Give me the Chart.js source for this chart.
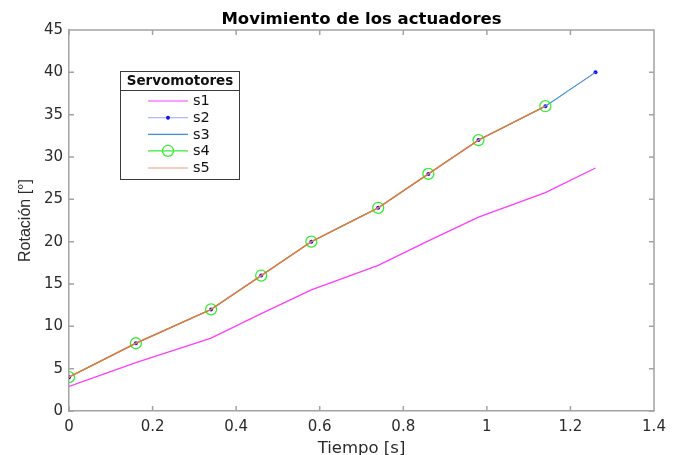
<!DOCTYPE html>
<html><head><meta charset="utf-8">
<script src="https://cdn.jsdelivr.net/npm/chart.js@4/dist/chart.umd.min.js"></script>
<style>html,body{margin:0;padding:0;background:#fff;overflow:hidden}</style>
</head><body>
<canvas id="c" width="676" height="455"></canvas>
<script>
// ---- data ----
const chartTitle = 'Movimiento de los actuadores';
const xAxisTitle = 'Tiempo [s]';
const yAxisTitle = 'Rotación [°]';
const legendTitle = 'Servomotores';
const seriesNames = ['s1', 's2', 's3', 's4', 's5'];
const tiempo = [0, 0.16, 0.34, 0.46, 0.58, 0.74, 0.86, 0.98, 1.14, 1.26];
const s1 = [2.9, 5.7, 8.6, 11.5, 14.3, 17.2, 20.1, 22.9, 25.8, 28.7];
const s2 = [4, 8, 12, 16, 20, 24, 28, 32, 36, 40];
const s3 = [4, 8, 12, 16, 20, 24, 28, 32, 36, 40];
const s4 = [4, 8, 12, 16, 20, 24, 28, 32, 36];
const s5 = [4, 8, 12, 16, 20, 24, 28, 32, 36];
const xTicks = [0, 0.2, 0.4, 0.6, 0.8, 1, 1.2, 1.4];
const xTickLabels = ['0', '0.2', '0.4', '0.6', '0.8', '1', '1.2', '1.4'];
const yTicks = [0, 5, 10, 15, 20, 25, 30, 35, 40, 45];
const yTickLabels = ['0', '5', '10', '15', '20', '25', '30', '35', '40', '45'];

// ---- styles ----
const AXIS = '#a3a3a3';
const TXT = '#2b2b2b';
const FONT_H = "'DejaVu Sans', sans-serif";
const FONT_V = "'Liberation Sans', Arial, sans-serif";
const styles = [
  {color: '#ff3cff', legend: '#ff7cff', width: 1.3, radius: 0, pcolor: null},
  {color: '#9a9aff', legend: '#b4b4ff', width: 1, radius: 2, pcolor: '#1010f0'},
  {color: '#4a98d6', legend: '#3f8fd2', width: 1.1, radius: 0, pcolor: null},
  {color: '#33ee33', legend: '#33ee33', width: 1, radius: 5.5, pcolor: '#33ee33', hollow: true},
  {color: '#e8773f', legend: '#f4bea4', width: 1.5, radius: 0, pcolor: null}
];
const seriesData = [s1, s2, s3, s4, s5];

const toXY = arr => arr.map((v, i) => ({x: tiempo[i], y: v}));

const datasets = seriesData.map((arr, i) => {
  const st = styles[i];
  return {
    label: seriesNames[i],
    data: toXY(arr),
    borderColor: st.color,
    borderWidth: st.width,
    backgroundColor: st.hollow ? 'rgba(0,0,0,0)' : (st.pcolor || st.color),
    pointRadius: st.radius,
    pointBorderColor: st.pcolor || st.color,
    pointBackgroundColor: st.hollow ? 'rgba(0,0,0,0)' : (st.pcolor || st.color),
    pointBorderWidth: st.hollow ? 1.3 : 0,
    pointHoverRadius: st.radius,
    tension: 0,
    fill: false,
    order: 5 - i
  };
});

const boxPlugin = {
  id: 'matlabBox',
  beforeDatasetsDraw(chart) {
    const {ctx, chartArea: a, scales: {x, y}} = chart;
    ctx.save();
    ctx.strokeStyle = AXIS;
    ctx.lineWidth = 1.5;
    ctx.beginPath();
    ctx.moveTo(a.left, a.top); ctx.lineTo(a.right, a.top); ctx.lineTo(a.right, a.bottom);
    const L = 5;
    xTicks.forEach(v => {
      const px = x.getPixelForValue(v);
      ctx.moveTo(px, a.bottom); ctx.lineTo(px, a.bottom - L);
      ctx.moveTo(px, a.top); ctx.lineTo(px, a.top + L);
    });
    yTicks.forEach(v => {
      const py = y.getPixelForValue(v);
      ctx.moveTo(a.left, py); ctx.lineTo(a.left + L, py);
      ctx.moveTo(a.right, py); ctx.lineTo(a.right - L, py);
    });
    ctx.stroke();
    ctx.restore();
  }
};

const legendPlugin = {
  id: 'matlabLegend',
  afterDatasetsDraw(chart) {
    const {ctx} = chart;
    const bx = 120, by = 71, bw = 119, bh = 108;
    ctx.save();
    ctx.fillStyle = '#fff';
    ctx.fillRect(bx, by, bw, bh);
    ctx.strokeStyle = '#3a3a3a';
    ctx.lineWidth = 1;
    ctx.strokeRect(bx + 0.5, by + 0.5, bw, bh);
    ctx.beginPath();
    ctx.moveTo(bx, 90.5); ctx.lineTo(bx + bw, 90.5);
    ctx.stroke();
    ctx.fillStyle = '#111';
    ctx.font = "bold 13.5px " + FONT_H;
    ctx.textAlign = 'center';
    ctx.textBaseline = 'middle';
    ctx.fillText(legendTitle, bx + bw / 2 + 0.5, 81);
    const rows = [101, 117.7, 134.3, 150.8, 168];
    ctx.font = "14.5px " + FONT_H;
    ctx.textAlign = 'left';
    seriesNames.forEach((name, i) => {
      const st = styles[i];
      const yy = rows[i];
      ctx.strokeStyle = st.legend;
      ctx.lineWidth = 1.3;
      ctx.beginPath();
      ctx.moveTo(148, yy); ctx.lineTo(188, yy);
      ctx.stroke();
      if (st.radius > 0) {
        ctx.beginPath();
        ctx.arc(168, yy, st.radius, 0, Math.PI * 2);
        if (st.hollow) { ctx.strokeStyle = st.pcolor; ctx.lineWidth = 1.3; ctx.stroke(); }
        else { ctx.fillStyle = st.pcolor; ctx.fill(); }
      }
      ctx.fillStyle = '#111';
      ctx.fillText(name, 193, yy + 0.5);
    });
    ctx.restore();
  }
};

new Chart(document.getElementById('c'), {
  type: 'line',
  data: {datasets},
  plugins: [boxPlugin, legendPlugin],
  options: {
    responsive: false,
    animation: false,
    devicePixelRatio: 1,
    layout: {padding: {left: 0, right: 22, top: 0, bottom: 0}},
    plugins: {
      legend: {display: false},
      tooltip: {enabled: false},
      title: {
        display: true,
        text: chartTitle,
        fullSize: false,
        color: '#000',
        font: {family: FONT_H, size: 16.5, weight: 'bold', lineHeight: 1.2},
        padding: {top: 10, bottom: 0.2}
      }
    },
    scales: {
      x: {
        type: 'linear',
        min: 0, max: 1.4,
        afterBuildTicks: s => { s.ticks = xTicks.map(v => ({value: v})); },
        afterFit: s => { s.height = 44; },
        grid: {display: false, drawTicks: false},
        border: {display: true, color: AXIS, width: 1.5},
        ticks: {
          padding: 7,
          color: TXT,
          font: {family: FONT_H, size: 15},
          maxRotation: 0,
          autoSkip: false,
          callback: (v, i) => xTickLabels[i]
        },
        title: {
          display: true, text: xAxisTitle, color: TXT,
          font: {family: FONT_H, size: 16.5, lineHeight: 1.0},
          padding: {top: 0, bottom: -2}
        }
      },
      y: {
        type: 'linear',
        min: 0, max: 45,
        afterBuildTicks: s => { s.ticks = yTicks.map(v => ({value: v})); },
        afterFit: s => { s.width = 69; },
        grid: {display: false, drawTicks: false},
        border: {display: true, color: AXIS, width: 1.5},
        ticks: {
          padding: 6,
          color: TXT,
          font: {family: FONT_H, size: 15},
          autoSkip: false,
          callback: (v, i) => yTickLabels[i]
        },
        title: {
          display: true, text: yAxisTitle, color: TXT,
          font: {family: FONT_V, size: 16, lineHeight: 1.2},
          padding: {top: 15.5, bottom: 0}
        }
      }
    }
  }
});
</script>
</body></html>
